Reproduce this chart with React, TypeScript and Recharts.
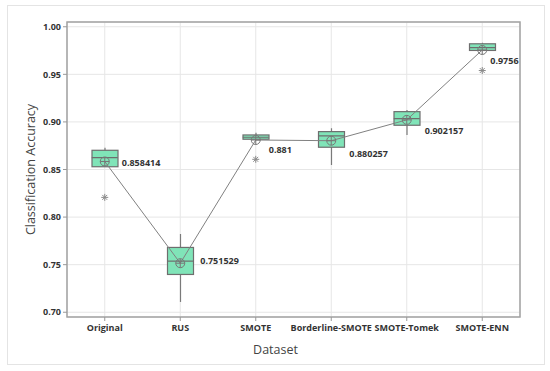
import {
  ComposedChart, Bar, Line, Scatter, XAxis, YAxis, CartesianGrid, ReferenceArea, LabelList,
} from "recharts";

const categories = ["Original", "RUS", "SMOTE", "Borderline-SMOTE", "SMOTE-Tomek", "SMOTE-ENN"];
const whiskerLow = [0.8529, 0.7108, 0.8818, 0.8547, 0.8863, 0.9751];
const q1 = [0.8529, 0.7397, 0.8818, 0.8734, 0.8965, 0.9751];
const medians = [0.8624, 0.7537, 0.8839, 0.8853, 0.9035, 0.978];
const q3 = [0.8702, 0.7681, 0.8863, 0.8898, 0.9108, 0.9821];
const whiskerHigh = [0.8729, 0.7821, 0.8887, 0.8934, 0.9126, 0.9832];
const means = [0.858414, 0.751529, 0.881, 0.880257, 0.902157, 0.9756];
const outliers: (number | null)[] = [0.8207, null, 0.8607, null, null, 0.954];
const meanLabels = ["0.858414", "0.751529", "0.881", "0.880257", "0.902157", "0.9756"];
const yTicks = [0.7, 0.75, 0.8, 0.85, 0.9, 0.95, 1.0];

// label nudges (Minitab moves them around to avoid the line)
const labelShift = [[17, 1], [20, -2], [13, 10], [18, 13], [18, 11], [8, 11]];

const data = categories.map((name, i) => ({
  name,
  whisker: [whiskerLow[i], whiskerHigh[i]],
  box: [q1[i], q3[i]],
  median: medians[i],
  mean: means[i],
  outlier: outliers[i],
}));

const FONT = "'Open Sans', 'Noto Sans', sans-serif";
const BOX_W = 26;
const GREY = "#7a7a7a";

const WhiskerShape = (props: any) => {
  const { x, y, width, height } = props;
  const cx = x + width / 2;
  const top = Math.min(y, y + height);
  const bottom = Math.max(y, y + height);
  return <line x1={cx} x2={cx} y1={top} y2={bottom} stroke={GREY} strokeWidth={1.2} />;
};

const BoxShape = (props: any) => {
  const { x, y, width, height } = props;
  const top = Math.min(y, y + height);
  return (
    <rect x={x} y={top} width={width} height={Math.abs(height)} fill="#80e4b8" stroke="#6e6e6e" strokeWidth={1.2} />
  );
};

const MedianShape = (props: any) => {
  const { cx, cy } = props;
  if (cx == null || cy == null) return <g />;
  return <line x1={cx - BOX_W / 2} x2={cx + BOX_W / 2} y1={cy} y2={cy} stroke="#6e6e6e" strokeWidth={1.2} />;
};

const OutlierShape = (props: any) => {
  const { cx, cy, payload } = props;
  if (payload == null || payload.outlier == null) return <g />;
  const r = 3.5;
  return (
    <g stroke="#8a8a8a" strokeWidth={1}>
      <line x1={cx - r} x2={cx + r} y1={cy} y2={cy} />
      <line x1={cx} x2={cx} y1={cy - r} y2={cy + r} />
      <line x1={cx - r * 0.7} x2={cx + r * 0.7} y1={cy - r * 0.7} y2={cy + r * 0.7} />
      <line x1={cx - r * 0.7} x2={cx + r * 0.7} y1={cy + r * 0.7} y2={cy - r * 0.7} />
    </g>
  );
};

const MeanDot = (props: any) => {
  const { cx, cy, index } = props;
  const r = 4.5;
  return (
    <g key={`mean-${index}`} stroke="#777" strokeWidth={1} fill="none">
      <circle cx={cx} cy={cy} r={r} />
      <line x1={cx - r} x2={cx + r} y1={cy} y2={cy} />
      <line x1={cx} x2={cx} y1={cy - r} y2={cy + r} />
    </g>
  );
};

const MeanLabel = (props: any) => {
  const { x, y, index } = props;
  const [dx, dy] = labelShift[index];
  return (
    <text x={x + dx} y={y + dy} dy="0.35em" fontSize={9} fontWeight="bold" fill="#333" fontFamily={FONT}>
      {meanLabels[index]}
    </text>
  );
};

const tickStyle = { fontSize: 9, fontWeight: "bold", fill: "#333", fontFamily: FONT };

export default function App() {
  return (
    <div style={{ position: "fixed", left: 0, top: 0, width: 550, height: 371, background: "#fff" }}>
      <div
        style={{
          position: "absolute", left: 7, top: 5, width: 536, height: 358,
          border: "1px solid #e4e4e4",
        }}
      />
      <div style={{ position: "absolute", left: 0, top: 0 }}>
        <ComposedChart width={550} height={371} data={data} margin={{ top: 22, right: 30, bottom: 0, left: 0 }}>
          <CartesianGrid xAxisId="main" stroke="#e6e6e6" strokeWidth={1} />
          <XAxis
            xAxisId="main"
            dataKey="name"
            height={54}
            interval={0}
            tickSize={4}
            tickMargin={4}
            axisLine={false}
            tickLine={{ stroke: "#999" }}
            tick={tickStyle}
            label={{
              content: (p: any) => (
                <text
                  x={p.viewBox.x + p.viewBox.width / 2 - 18}
                  y={350}
                  dy="0.35em"
                  textAnchor="middle"
                  fontSize={12.5}
                  fill="#444"
                  fontFamily={FONT}
                >
                  Dataset
                </text>
              ),
            }}
          />
          <XAxis xAxisId="box" dataKey="name" orientation="top" hide />
          <XAxis xAxisId="whisk" dataKey="name" orientation="top" hide />
          <YAxis
            domain={[0.695, 1.005]}
            ticks={yTicks}
            allowDataOverflow
            width={67}
            tickSize={4}
            tickMargin={2}
            axisLine={false}
            tickLine={{ stroke: "#999" }}
            tick={tickStyle}
            tickFormatter={(v: number) => v.toFixed(2)}
            label={{
              content: (p: any) => (
                <text
                  x={31}
                  y={p.viewBox.y + p.viewBox.height / 2}
                  textAnchor="middle"
                  dy="0.35em"
                  transform={`rotate(-90, 31, ${p.viewBox.y + p.viewBox.height / 2})`}
                  fontSize={12.5}
                  fill="#444"
                  fontFamily={FONT}
                >
                  Classification Accuracy
                </text>
              ),
            }}
          />
          <ReferenceArea xAxisId="main" y1={0.695} y2={1.005} fill="none" stroke="#a3a3a3" strokeWidth={1.5} />
          <Bar xAxisId="whisk" dataKey="whisker" barSize={BOX_W} shape={WhiskerShape} isAnimationActive={false} />
          <Bar xAxisId="box" dataKey="box" barSize={BOX_W} shape={BoxShape} isAnimationActive={false} />
          <Scatter xAxisId="main" dataKey="median" shape={MedianShape} isAnimationActive={false} />
          <Scatter xAxisId="main" dataKey="outlier" shape={OutlierShape} isAnimationActive={false} />
          <Line
            xAxisId="main"
            dataKey="mean"
            stroke="#808080"
            strokeWidth={1}
            dot={MeanDot}
            activeDot={false}
            isAnimationActive={false}
          >
            <LabelList dataKey="mean" content={MeanLabel} />
          </Line>
        </ComposedChart>
      </div>
    </div>
  );
}
